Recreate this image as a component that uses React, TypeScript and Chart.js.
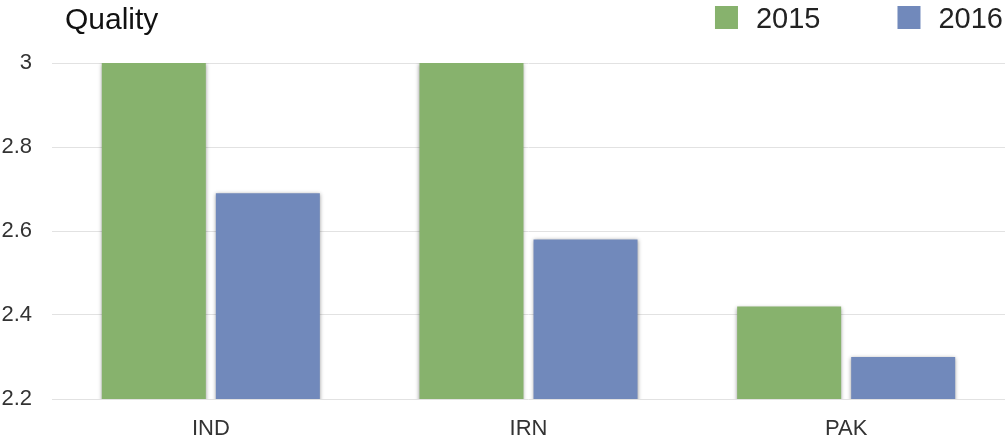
import React, { useEffect, useRef } from "react";
import { Chart, registerables } from "chart.js";

Chart.register(...registerables);

const categories = ["IND", "IRN", "PAK"];
const seriesNames = ["2015", "2016"];
const values2015 = [3.0, 3.0, 2.42];
const values2016 = [2.69, 2.58, 2.3];
const yTickLabels = ["2.2", "2.4", "2.6", "2.8", "3"];
const chartTitle = "Quality";

const GREEN = "#87b26d";
const BLUE = "#7189bb";
const FONT = "'Liberation Sans', Arial, Helvetica, sans-serif";

const shadowPlugin = {
  id: "barShadow",
  beforeDatasetsDraw(chart: any) {
    const ctx = chart.ctx;
    ctx.save();
    ctx.shadowColor = "rgba(0,0,0,0.4)";
    ctx.shadowBlur = 4;
    ctx.shadowOffsetX = 0;
    ctx.shadowOffsetY = 1;
  },
  afterDatasetsDraw(chart: any) {
    chart.ctx.restore();
  },
};

const headerPlugin = {
  id: "header",
  afterDraw(chart: any) {
    const ctx = chart.ctx;
    ctx.save();
    ctx.font = `30px ${FONT}`;
    ctx.fillStyle = "#111";
    ctx.textAlign = "left";
    ctx.textBaseline = "alphabetic";
    ctx.fillText(chartTitle, 65, 29);
    ctx.font = `29px ${FONT}`;
    const ds = chart.data.datasets;
    let x = 1003;
    const box = 23;
    const boxGap = 18;
    const itemGap = 77;
    for (let i = ds.length - 1; i >= 0; i--) {
      const label = ds[i].label as string;
      const w = ctx.measureText(label).width;
      const tx = x - w;
      ctx.fillStyle = "#222";
      ctx.fillText(label, tx, 28);
      const bx = tx - boxGap - box;
      ctx.fillStyle = ds[i].backgroundColor;
      ctx.fillRect(bx, 6, box, box);
      x = bx - itemGap;
    }
    ctx.restore();
  },
};

export default function App() {
  const ref = useRef<HTMLCanvasElement | null>(null);
  useEffect(() => {
    if (!ref.current) return;
    const chart = new Chart(ref.current, {
      type: "bar",
      data: {
        labels: categories,
        datasets: [
          { label: seriesNames[0], data: values2015, backgroundColor: GREEN, borderWidth: 0 },
          { label: seriesNames[1], data: values2016, backgroundColor: BLUE, borderWidth: 0 },
        ],
      },
      options: {
        animation: false,
        responsive: true,
        maintainAspectRatio: false,
        layout: { padding: { top: 63, right: 0, bottom: 0, left: 0 } },
        datasets: { bar: { categoryPercentage: 0.718, barPercentage: 0.912 } },
        plugins: {
          legend: { display: false },
          title: { display: false },
          tooltip: { enabled: false },
        },
        scales: {
          x: {
            grid: { display: false },
            border: { display: false },
            ticks: { font: { family: FONT, size: 22 }, color: "#333", padding: 9 },
            afterFit(scale: any) {
              scale.height = 36;
            },
          },
          y: {
            min: 2.2,
            max: 3,
            ticks: {
              stepSize: 0.2,
              font: { family: FONT, size: 22 },
              color: "#333",
              padding: 20,
              callback: (_v: any, i: number) => yTickLabels[i],
            },
            grid: { color: "#e2e2e2", lineWidth: 1, drawTicks: false },
            border: { display: false },
            afterFit(scale: any) {
              scale.width = 52;
            },
          },
        },
      },
      plugins: [shadowPlugin, headerPlugin],
    });
    return () => chart.destroy();
  }, []);
  return (
    <div style={{ position: "absolute", left: 0, top: 0, width: 1005, height: 435, background: "#fff" }}>
      <canvas ref={ref} />
    </div>
  );
}
